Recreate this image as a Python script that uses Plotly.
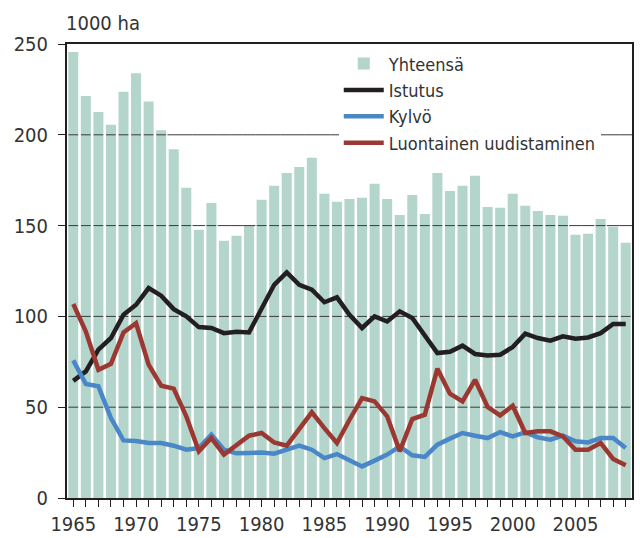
import plotly.graph_objects as go

years = list(range(1965, 2010))

yhteensa = [245.6, 221.4, 212.6, 205.5, 223.7, 233.9, 218.4, 202.5, 192.1, 170.8,
            147.7, 162.5, 141.7, 144.4, 149.9, 164.2, 171.9, 179.0, 182.3, 187.3,
            167.5, 163.1, 164.7, 165.3, 173.0, 164.7, 155.9, 166.9, 156.4, 179.0,
            169.1, 171.9, 177.4, 160.3, 159.8, 167.5, 160.9, 158.1, 155.9, 155.4,
            144.9, 145.5, 153.7, 149.3, 140.5]

istutus = [64.5, 69.7, 81.7, 88.1, 100.9, 106.4, 115.6, 111.4, 104.0, 100.0,
           94.1, 93.6, 90.8, 91.6, 91.2, 104.0, 117.4, 124.2, 117.4, 114.7,
           107.8, 110.5, 100.9, 93.6, 100.0, 97.2, 102.8, 99.1, 89.0, 79.8,
           80.5, 83.9, 79.3, 78.5, 78.9, 83.1, 90.5, 88.1, 86.6, 89.0,
           87.7, 88.4, 90.8, 95.8, 95.8]

kylvo = [75.8, 62.8, 61.5, 44.0, 31.7, 31.4, 30.3, 30.3, 28.8, 26.6,
         27.5, 34.9, 26.6, 24.6, 24.8, 25.1, 24.4, 26.6, 28.8, 26.6,
         22.0, 24.2, 21.1, 17.4, 20.6, 23.9, 28.4, 23.5, 22.6, 29.4,
         32.7, 35.8, 34.3, 33.0, 36.3, 33.9, 36.1, 33.4, 32.1, 34.3,
         31.2, 30.6, 33.0, 33.0, 27.5]

luontainen = [106.8, 91.7, 70.6, 73.9, 91.2, 96.3, 73.4, 61.8, 60.2, 45.0,
              25.7, 33.0, 23.9, 29.4, 34.3, 35.8, 30.6, 28.8, 37.6, 47.2,
              38.5, 30.3, 43.1, 55.0, 53.2, 45.0, 25.7, 43.5, 45.9, 71.2,
              57.4, 53.2, 65.1, 50.1, 45.5, 50.8, 35.8, 36.7, 36.7, 33.9,
              26.6, 26.6, 30.3, 21.5, 18.0]

y_ticks = [0, 50, 100, 150, 200, 250]
grid_vals = [50, 100, 150, 200]
x_ticks = list(range(1965, 2010, 5))

FONT = "DejaVu Sans Condensed"
TXT = "#333333"
AX = "#231f20"

fig = go.Figure()

fig.add_trace(go.Bar(
    x=years, y=yhteensa, name="Yhteensä",
    marker=dict(color="#b4d5cb", line=dict(width=0)),
))

# grid lines (over the bars, broken at the white gaps between bars)
gx, gy = [], []
half = 0.39
for g in grid_vals:
    for yr, v in zip(years, yhteensa):
        if v >= g:
            gx += [yr - half, yr + half, None]
        else:
            gx += [yr - 0.5, yr + 0.5, None]
        gy += [g, g, None]
fig.add_trace(go.Scatter(
    x=gx, y=gy, mode="lines", showlegend=False, hoverinfo="skip",
    line=dict(color="#3a3a3a", width=1),
))

fig.add_trace(go.Scatter(x=years, y=istutus, name="Istutus", mode="lines",
                         line=dict(color="#231f20", width=4.5)))
fig.add_trace(go.Scatter(x=years, y=kylvo, name="Kylvö", mode="lines",
                         line=dict(color="#4a87c9", width=4.5)))
fig.add_trace(go.Scatter(x=years, y=luontainen, name="Luontainen uudistaminen", mode="lines",
                         line=dict(color="#9c3832", width=4.5)))

fig.update_layout(
    width=640, height=538,
    margin=dict(l=67, r=8, t=44, b=40, autoexpand=False),
    paper_bgcolor="white", plot_bgcolor="white",
    font=dict(family=FONT, size=20, color=TXT),
    bargap=0.2,
    showlegend=True,
    legend=dict(
        x=0.481, y=0.997, xanchor="left", yanchor="top",
        bgcolor="white", borderwidth=0,
        font=dict(family=FONT, size=18, color=TXT),
        tracegroupgap=0, itemwidth=40,
    ),
    xaxis=dict(
        range=[1964.5, 2009.5],
        tickmode="array", tickvals=x_ticks, ticktext=[str(t) for t in x_ticks],
        ticks="outside", ticklen=7, tickwidth=1, tickcolor=AX,
        minor=dict(dtick=1, tick0=1965, ticks="outside", ticklen=7, tickwidth=1, tickcolor=AX),
        showgrid=False, zeroline=False,
        showline=True, linecolor=AX, linewidth=2, mirror=True,
        tickfont=dict(family=FONT, size=20, color=TXT),
    ),
    yaxis=dict(
        range=[0, 250],
        tickmode="array", tickvals=y_ticks,
        ticks="outside", ticklen=7, tickwidth=1, tickcolor=AX,
        showgrid=False, zeroline=False,
        showline=True, linecolor=AX, linewidth=2, mirror=True,
        ticklabelstandoff=6,
        tickfont=dict(family=FONT, size=20, color=TXT),
    ),
    annotations=[dict(
        text="1000 ha", xref="paper", yref="paper", x=0, y=1,
        xanchor="left", yanchor="bottom", yshift=7, xshift=-3, showarrow=False,
        font=dict(family=FONT, size=20, color=TXT),
    )],
)

fig.write_html(
    "out.html",
    config={"displayModeBar": False},
    post_script="document.body.style.margin='0';document.body.style.overflow='hidden';",
)
